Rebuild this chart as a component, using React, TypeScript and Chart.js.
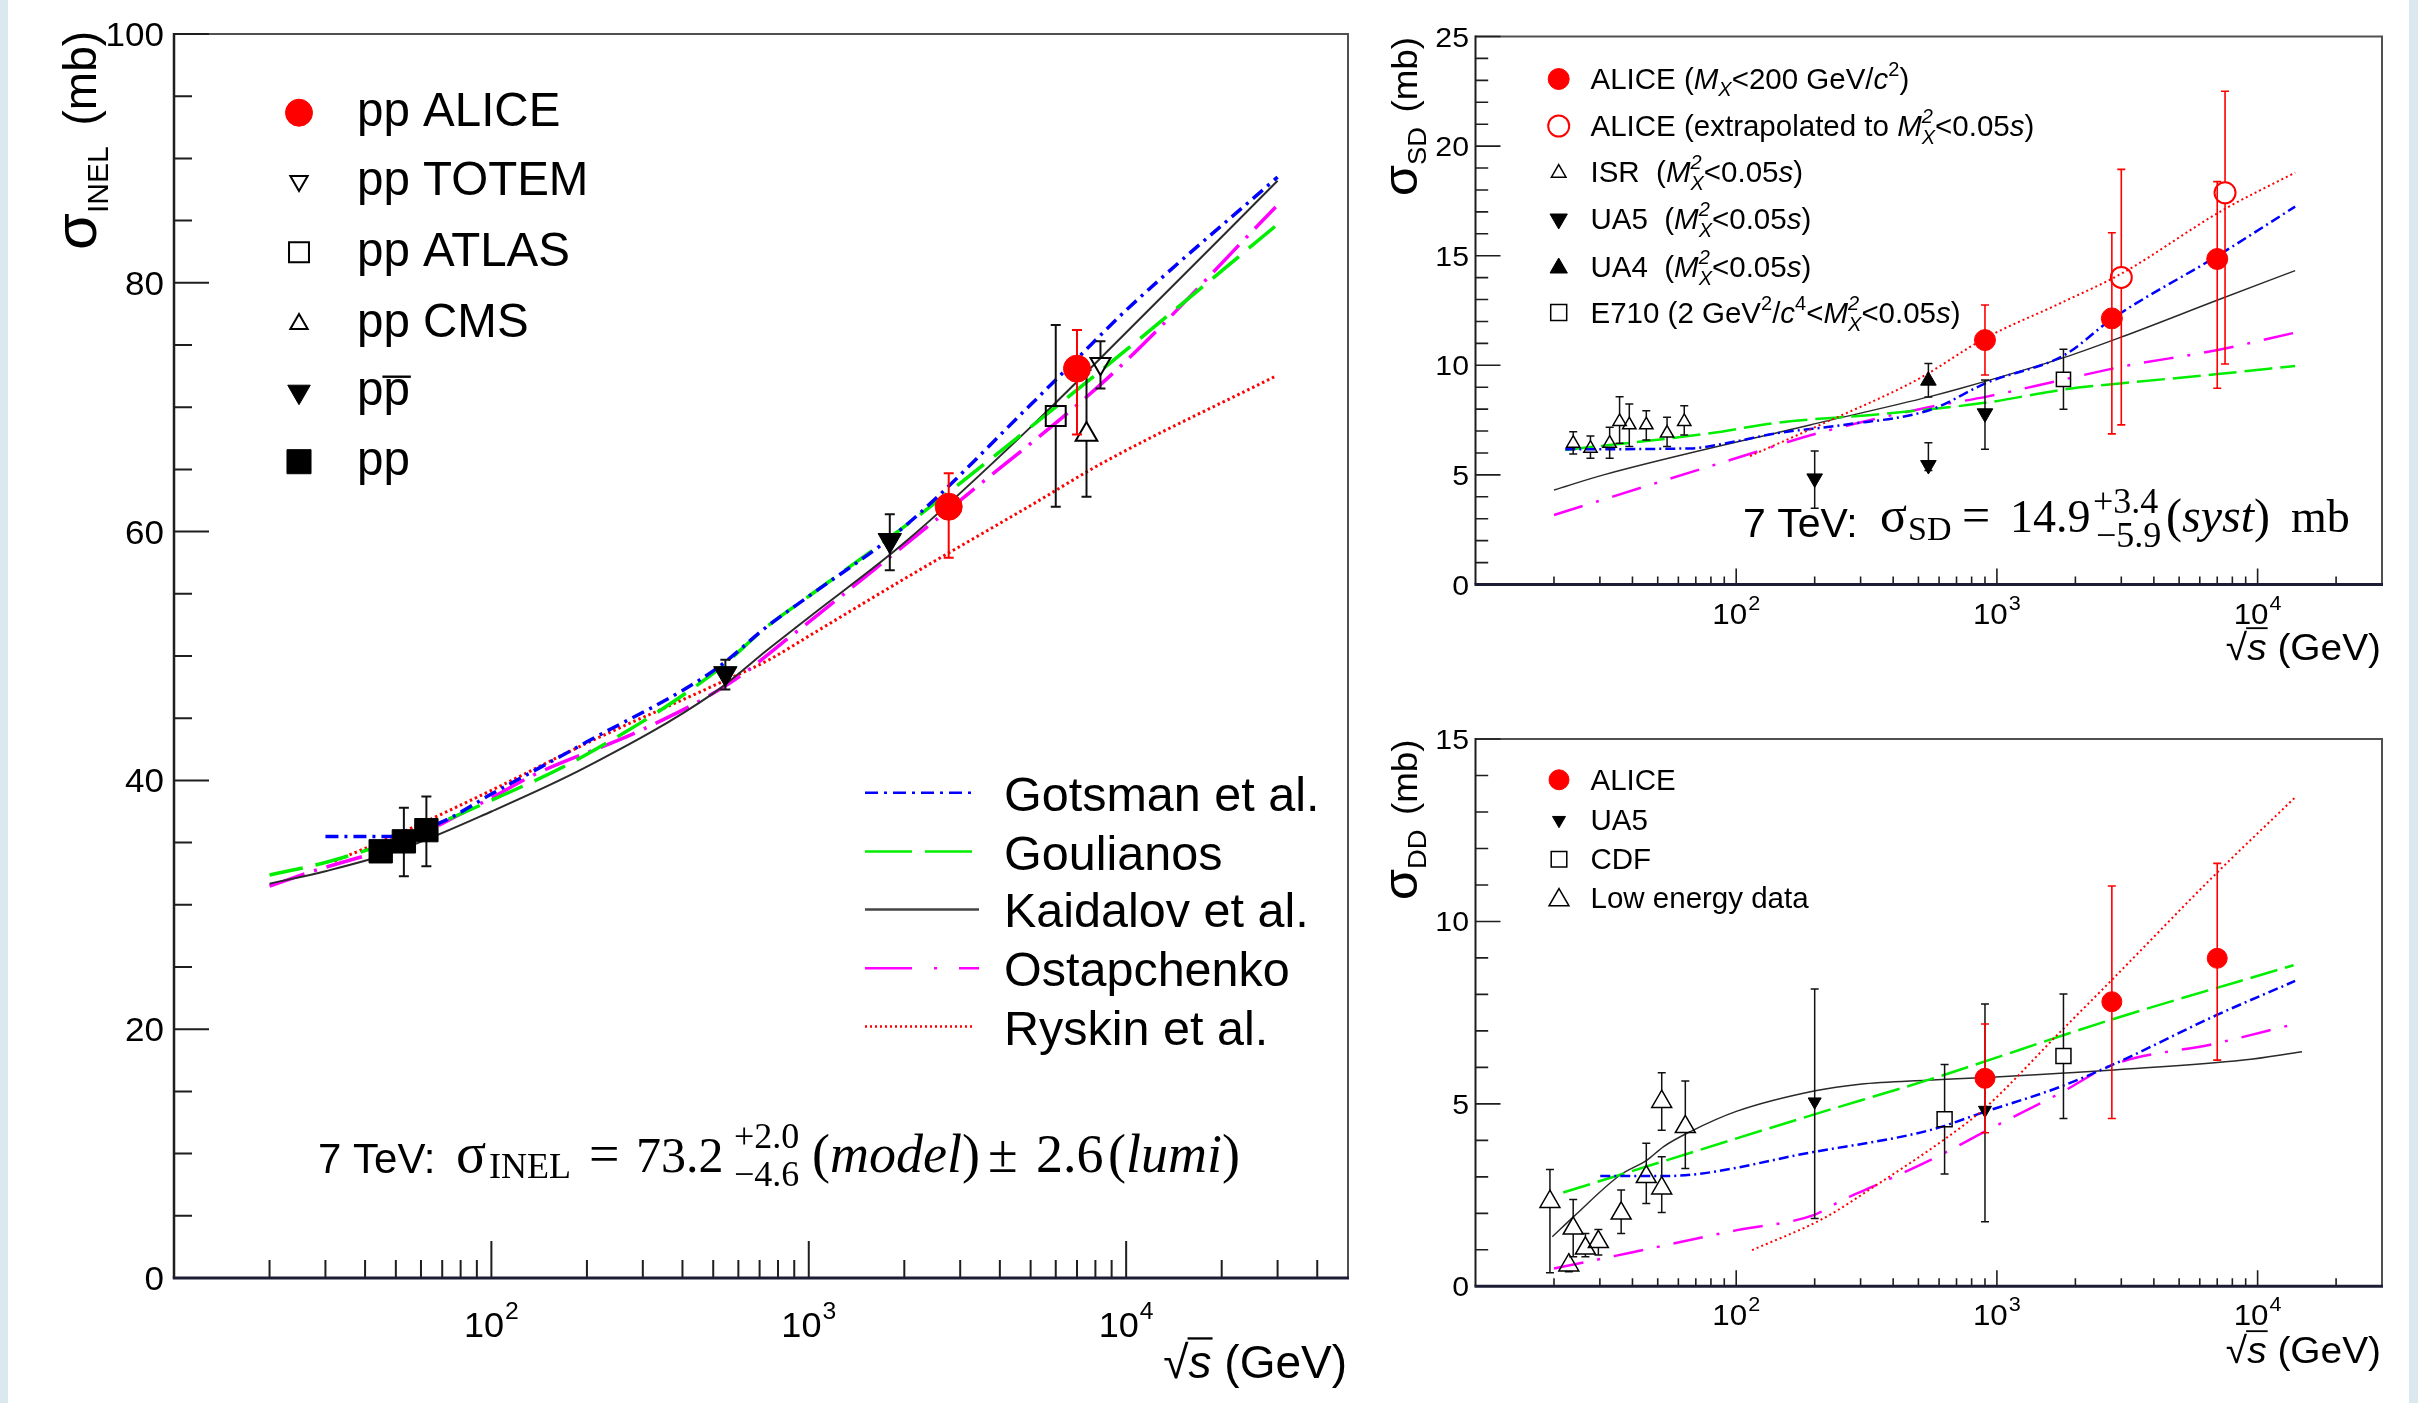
import React, { useEffect, useRef } from 'react';
import { Chart, registerables } from 'chart.js';

Chart.register(...registerables);

// ================= DATA: left panel, sigma_INEL (mb) vs sqrt(s) (GeV) =================
const inelAliceEnergy = [2760, 7000];
const inelAliceValue = [62.0, 73.1];
const inelAliceHigh = [64.7, 76.2];
const inelAliceLow = [57.9, 67.8];

const inelTotemEnergy = [8300];
const inelTotemValue = [73.5];
const inelTotemHigh = [75.3];
const inelTotemLow = [71.5];

const inelAtlasEnergy = [6000];
const inelAtlasValue = [69.3];
const inelAtlasHigh = [76.6];
const inelAtlasLow = [62.0];

const inelCmsEnergy = [7500];
const inelCmsValue = [67.8];
const inelCmsHigh = [73.0];
const inelCmsLow = [62.8];

const inelPpbarEnergy = [546, 1800];
const inelPpbarValue = [48.6, 59.3];
const inelPpbarHigh = [49.7, 61.4];
const inelPpbarLow = [47.3, 56.9];

const inelPpEnergy = [44.8, 53, 62.4];
const inelPpValue = [34.3, 35.1, 36.0];
const inelPpHigh = [34.9, 37.8, 38.7];
const inelPpLow = [33.7, 32.3, 33.1];

const inelGotsmanEnergy = [30, 48, 69, 100, 200, 500, 750, 1000, 2000, 5000, 7000, 10000, 30000];
const inelGotsmanValue = [35.5, 35.5, 36.6, 38.9, 43.1, 48.8, 52.5, 54.8, 60.4, 70.2, 73.9, 77.8, 88.5];

const inelGoulianosEnergy = [20, 30, 50, 100, 200, 500, 750, 1000, 2000, 5000, 10000, 30000];
const inelGoulianosValue = [32.4, 33.4, 35.2, 38.4, 42.1, 48.6, 52.5, 54.8, 60.4, 68.4, 74.6, 84.7];

const inelKaidalovEnergy = [20, 30, 50, 100, 200, 500, 750, 1000, 2000, 5000, 10000, 30000];
const inelKaidalovValue = [31.7, 32.7, 34.3, 37.5, 41.1, 47.0, 50.6, 53.1, 59.1, 68.4, 76.0, 88.2];

const inelOstapEnergy = [20, 27.4, 50, 100, 135, 300, 562, 889, 2000, 3200, 9060, 29600];
const inelOstapValue = [31.5, 32.7, 34.8, 38.6, 40.4, 44.1, 47.8, 51.7, 58.9, 63.1, 72.7, 86.1];

const inelRyskinEnergy = [32, 50, 100, 200, 500, 750, 1000, 2000, 5000, 8400, 29600];
const inelRyskinValue = [33.5, 35.6, 39.2, 43.0, 47.6, 49.7, 51.6, 56.2, 62.1, 65.5, 72.5];

const inelYTicks = [0, 20, 40, 60, 80, 100];
const xTickExponents = [2, 3, 4];

// ================= DATA: top-right panel, sigma_SD (mb) =================
const sdAliceEnergy = [900, 2760, 7000];
const sdAliceValue = [11.15, 12.14, 14.85];
const sdAliceHigh = [12.75, 16.05, 18.38];
const sdAliceLow = [9.56, 6.87, 8.95];

const sdAliceExtEnergy = [3000, 7500];
const sdAliceExtValue = [14.01, 17.87];
const sdAliceExtHigh = [18.94, 22.5];
const sdAliceExtLow = [7.28, 10.06];

const sdIsrEnergy = [23.7, 27.6, 32.7, 35.7, 38.9, 45.2, 54.3, 63.2];
const sdIsrValue = [6.44, 6.21, 6.44, 7.43, 7.28, 7.28, 6.9, 7.43];
const sdIsrHigh = [6.97, 6.77, 7.17, 8.57, 8.23, 7.93, 7.63, 8.16];
const sdIsrLow = [5.95, 5.76, 5.76, 6.44, 6.29, 6.59, 6.29, 6.82];

const sdUa5Energy = [200, 546, 900];
const sdUa5Value = [4.84, 5.45, 7.81];
const sdUa5High = [6.09, 6.47, 9.33];
const sdUa5Low = [3.48, 5.2, 6.17];

const sdUa4Energy = [546];
const sdUa4Value = [9.3];
const sdUa4High = [10.08];
const sdUa4Low = [8.55];

const sdE710Energy = [1800];
const sdE710Value = [9.36];
const sdE710High = [10.73];
const sdE710Low = [7.99];

const sdGotsmanEnergy = [22.1, 66.7, 97.7, 143, 258, 553, 914, 1816, 2781, 7030, 13930];
const sdGotsmanValue = [6.17, 6.21, 6.51, 6.9, 7.28, 7.96, 9.2, 10.47, 12.14, 15.0, 17.24];

const sdGoulianosEnergy = [22.1, 79.5, 143, 346, 914, 1816, 3020, 7030, 13930];
const sdGoulianosValue = [6.14, 6.9, 7.38, 7.76, 8.3, 8.9, 9.18, 9.6, 9.97];

const sdKaidalovEnergy = [20, 31, 192, 553, 728, 1816, 3020, 7030, 13930];
const sdKaidalovValue = [4.31, 5.0, 7.28, 8.57, 8.95, 10.36, 11.3, 12.98, 14.32];

const sdOstapEnergy = [20, 94.8, 216, 553, 914, 1816, 3020, 7030, 13930];
const sdOstapValue = [3.17, 5.68, 6.97, 8.1, 8.57, 9.36, 9.94, 10.7, 11.49];

const sdRyskinEnergy = [113, 216, 492, 906, 1750, 3020, 7400, 13930];
const sdRyskinValue = [5.86, 7.35, 9.33, 11.25, 12.83, 14.2, 17.1, 18.79];

const sdYTicks = [0, 5, 10, 15, 20, 25];

// ================= DATA: bottom-right panel, sigma_DD (mb) =================
const ddAliceEnergy = [900, 2760, 7000];
const ddAliceValue = [5.7, 7.8, 8.99];
const ddAliceHigh = [7.19, 10.97, 11.59];
const ddAliceLow = [4.21, 4.6, 6.2];

const ddUa5Energy = [200, 900];
const ddUa5Value = [5.06, 4.83];
const ddUa5High = [8.15, 7.74];
const ddUa5Low = [1.86, 1.77];

const ddCdfEnergy = [630, 1800];
const ddCdfValue = [4.58, 6.31];
const ddCdfHigh = [6.08, 8.01];
const ddCdfLow = [3.08, 4.6];

const ddLowEnergy = [19.3, 22.8, 23.7, 26.4, 29.6, 36.2, 45.2, 51.8, 51.8, 63.8];
const ddLowValue = [2.32, 0.58, 1.59, 1.04, 1.22, 2.0, 3.0, 2.69, 5.06, 4.37];
const ddLowHigh = [3.2, 0.8, 2.38, 1.45, 1.56, 2.64, 3.92, 3.55, 5.85, 5.63];
const ddLowLow = [0.37, 0.4, 0.81, 0.81, 0.86, 1.45, 2.27, 2.02, 4.28, 3.23];

const ddGotsmanEnergy = [30.1, 52.7, 201, 553, 898, 1754, 2754, 6950, 13930];
const ddGotsmanValue = [3.02, 3.02, 3.69, 4.28, 4.78, 5.47, 6.06, 7.43, 8.37];

const ddGoulianosEnergy = [21.7, 201, 553, 2781, 13740];
const ddGoulianosValue = [2.57, 4.72, 5.67, 7.32, 8.8];

const ddKaidalovEnergy = [19.7, 23.8, 35.9, 45.5, 52.7, 66.7, 100.7, 201, 298, 538, 914, 1754, 2805, 8830, 14800];
const ddKaidalovValue = [1.36, 1.91, 3.05, 3.46, 3.83, 4.24, 4.8, 5.36, 5.54, 5.65, 5.72, 5.84, 5.93, 6.2, 6.43];

const ddOstapEnergy = [20, 26.7, 38, 100.7, 198, 256, 346, 624, 898, 1754, 2754, 6950, 13740];
const ddOstapValue = [0.49, 0.67, 0.9, 1.54, 1.95, 2.37, 2.78, 3.64, 4.24, 5.3, 6.06, 6.66, 7.18];

const ddRyskinEnergy = [115, 216, 346, 624, 898, 1754, 2754, 6950, 13930];
const ddRyskinValue = [0.99, 1.86, 2.78, 4.01, 4.88, 6.98, 8.39, 11.32, 13.4];

const ddYTicks = [0, 5, 10, 15];

// ================= STYLES =================
const SANS = '"Liberation Sans", Arial, Helvetica, sans-serif';
const SERIF = '"Liberation Serif", "Times New Roman", Times, serif';
const BLUE = '#0000ff';
const GREEN = '#00ee00';
const KBLACK = '#2a2a2a';
const MAGENTA = '#ff00ff';
const RED = '#ff0000';
const NONE = 'rgba(0,0,0,0)';

type Seg = {
  t?: string; size: number; serif?: boolean; italic?: boolean; dy?: number; gap?: number;
  sup?: string; sub?: string; supDy?: number; subDy?: number; over?: number;
};

function fontOf(s: Seg) {
  return `${s.italic ? 'italic ' : ''}${s.size}px ${s.serif ? SERIF : SANS}`;
}
function segWidth(ctx: CanvasRenderingContext2D, s: Seg) {
  ctx.font = fontOf(s);
  if (s.sup !== undefined || s.sub !== undefined) {
    return Math.max(ctx.measureText(s.sup || '').width, ctx.measureText(s.sub || '').width);
  }
  return ctx.measureText(s.t || '').width;
}
function richWidth(ctx: CanvasRenderingContext2D, segs: Seg[]) {
  let w = 0;
  for (const s of segs) w += (s.gap || 0) + segWidth(ctx, s);
  return w;
}
function drawRich(ctx: CanvasRenderingContext2D, x: number, y: number, segs: Seg[],
  opts: { align?: string; stretch?: number; rotate?: boolean; color?: string } = {}) {
  ctx.save();
  ctx.translate(x, y);
  if (opts.rotate) ctx.rotate(-Math.PI / 2);
  ctx.scale(opts.stretch || 1, 1);
  const w = richWidth(ctx, segs);
  let cx = opts.align === 'right' ? -w : opts.align === 'center' ? -w / 2 : 0;
  ctx.fillStyle = opts.color || '#000';
  ctx.strokeStyle = opts.color || '#000';
  ctx.textAlign = 'left';
  ctx.textBaseline = 'alphabetic';
  for (const s of segs) {
    cx += s.gap || 0;
    const sw = segWidth(ctx, s);
    ctx.font = fontOf(s);
    if (s.sup !== undefined || s.sub !== undefined) {
      if (s.sup) ctx.fillText(s.sup, cx, s.supDy ?? -s.size * 0.6);
      if (s.sub) ctx.fillText(s.sub, cx, s.subDy ?? s.size * 0.4);
    } else {
      ctx.fillText(s.t || '', cx, s.dy || 0);
      if (s.over) {
        ctx.lineWidth = Math.max(1.5, s.size * 0.05);
        ctx.beginPath();
        ctx.moveTo(cx - 1, (s.dy || 0) - s.size * s.over);
        ctx.lineTo(cx + sw + 1, (s.dy || 0) - s.size * s.over);
        ctx.stroke();
      }
    }
    cx += sw;
  }
  ctx.restore();
}
// draw pieces each at its own absolute position: [x, baseline, segments]
function drawPieces(ctx: CanvasRenderingContext2D, pieces: [number, number, Seg[]][]) {
  pieces.forEach(([x, y, segs]) => drawRich(ctx, x, y, segs));
}

function drawMarker(ctx: CanvasRenderingContext2D, style: string, x: number, y: number, r: number,
  fill: string | null, stroke: string, bw: number) {
  ctx.save();
  ctx.beginPath();
  if (style === 'circle') ctx.arc(x, y, r, 0, Math.PI * 2);
  else if (style === 'triUp') {
    ctx.moveTo(x, y - r); ctx.lineTo(x + r * 0.866, y + r * 0.5); ctx.lineTo(x - r * 0.866, y + r * 0.5); ctx.closePath();
  } else if (style === 'triDown') {
    ctx.moveTo(x, y + r); ctx.lineTo(x + r * 0.866, y - r * 0.5); ctx.lineTo(x - r * 0.866, y - r * 0.5); ctx.closePath();
  } else {
    const s = r * Math.SQRT1_2; ctx.rect(x - s, y - s, 2 * s, 2 * s);
  }
  if (fill) { ctx.fillStyle = fill; ctx.fill(); }
  ctx.lineWidth = bw; ctx.strokeStyle = stroke; ctx.stroke();
  ctx.restore();
}

function drawLegendLine(ctx: CanvasRenderingContext2D, x1: number, x2: number, y: number, color: string, w: number, dash: number[]) {
  ctx.save();
  ctx.strokeStyle = color; ctx.lineWidth = w; ctx.setLineDash(dash);
  ctx.beginPath(); ctx.moveTo(x1, y); ctx.lineTo(x2, y); ctx.stroke();
  ctx.restore();
}

// ================= DATASET BUILDERS =================
function lineSet(xs: number[], ys: number[], color: string, width: number, dash: number[]) {
  return {
    data: xs.map((x, i) => ({ x, y: ys[i] })),
    showLine: true, borderColor: color, borderWidth: width, borderDash: dash,
    pointRadius: 0, pointHoverRadius: 0, fill: false, cubicInterpolationMode: 'monotone',
    backgroundColor: color,
  };
}
function markerSet(xs: number[], ys: number[], hi: number[], lo: number[],
  m: { style: string; r: number; fill: string; stroke: string; bw: number; rot?: number },
  e: { color: string; w: number; cap: number; up: number; down: number }) {
  return {
    data: xs.map((x, i) => ({ x, y: ys[i] })),
    showLine: false,
    pointStyle: m.style, pointRadius: m.r, pointHoverRadius: m.r, pointRotation: m.rot || 0,
    pointBackgroundColor: m.fill, pointBorderColor: m.stroke, pointBorderWidth: m.bw,
    errHigh: hi, errLow: lo, errColor: e.color, errWidth: e.w, errCap: e.cap, errUp: e.up, errDown: e.down,
  };
}

const errorBarPlugin = {
  id: 'errbars',
  beforeDatasetDraw(chart: any, args: any) {
    const ds = chart.data.datasets[args.index];
    if (!ds.errHigh) return;
    const ctx = chart.ctx; const ys = chart.scales.y;
    ctx.save();
    ctx.strokeStyle = ds.errColor; ctx.lineWidth = ds.errWidth;
    args.meta.data.forEach((pt: any, i: number) => {
      const x = pt.x, yc = pt.y;
      const yh = ys.getPixelForValue(ds.errHigh[i]);
      const yl = ys.getPixelForValue(ds.errLow[i]);
      ctx.beginPath();
      if (yc - ds.errUp > yh + 0.5) {
        ctx.moveTo(x, yc - ds.errUp); ctx.lineTo(x, yh);
        ctx.moveTo(x - ds.errCap, yh); ctx.lineTo(x + ds.errCap, yh);
      }
      if (yc + ds.errDown < yl - 0.5) {
        ctx.moveTo(x, yc + ds.errDown); ctx.lineTo(x, yl);
        ctx.moveTo(x - ds.errCap, yl); ctx.lineTo(x + ds.errCap, yl);
      }
      ctx.stroke();
    });
    ctx.restore();
  },
};

function drawAxes(chart: any, p: any) {
  const ctx = chart.ctx; const a = chart.chartArea; const xs = chart.scales.x; const ys = chart.scales.y;
  ctx.save();
  ctx.lineCap = 'butt';
  ctx.strokeStyle = '#505050'; ctx.lineWidth = p.frameW;
  ctx.beginPath(); ctx.moveTo(a.left, a.top); ctx.lineTo(a.right, a.top); ctx.lineTo(a.right, a.bottom); ctx.stroke();
  ctx.strokeStyle = '#1e1e1e'; ctx.lineWidth = p.axisW;
  ctx.beginPath(); ctx.moveTo(a.left, a.top - p.frameW / 2); ctx.lineTo(a.left, a.bottom); ctx.stroke();
  const n = Math.round((p.yMax - p.yMin) / p.yMinor);
  const ratio = Math.round(p.yMajor / p.yMinor);
  ctx.lineWidth = p.tickW;
  ctx.beginPath();
  for (let i = 0; i <= n; i++) {
    const v = p.yMin + i * p.yMinor;
    const py = ys.getPixelForValue(v);
    const len = i % ratio === 0 ? p.yMajLen : p.yMinLen;
    ctx.moveTo(a.left, py); ctx.lineTo(a.left + len, py);
  }
  ctx.stroke();
  ctx.beginPath();
  for (let e = Math.floor(Math.log10(p.xMin)); e <= Math.ceil(Math.log10(p.xMax)); e++) {
    for (let k = 1; k <= 9; k++) {
      const v = k * Math.pow(10, e);
      if (v <= p.xMin * 1.001 || v >= p.xMax * 0.999) continue;
      const px = xs.getPixelForValue(v);
      const len = k === 1 ? p.xMajLen : p.xMinLen;
      ctx.moveTo(px, a.bottom); ctx.lineTo(px, a.bottom - len);
    }
  }
  ctx.stroke();
  ctx.strokeStyle = '#1c1c34'; ctx.lineWidth = p.bottomW;
  ctx.beginPath(); ctx.moveTo(a.left - p.axisW / 2, a.bottom); ctx.lineTo(a.right + p.frameW / 2, a.bottom); ctx.stroke();
  ctx.restore();
}

function decorPlugin(p: any) {
  return {
    id: 'decor',
    afterDraw(chart: any) {
      drawAxes(chart, p);
      const ctx = chart.ctx; const xs = chart.scales.x; const ys = chart.scales.y;
      ctx.save();
      ctx.translate(-p.ox, -p.oy);
      p.yTicks.forEach((v: number) => {
        const py = ys.getPixelForValue(v) + p.oy;
        drawRich(ctx, p.yLabelX, py + p.yLabelDy, [{ t: String(v), size: p.yLabelSize }], { align: 'right', stretch: p.labelStretch });
      });
      xTickExponents.forEach((e) => {
        const px = xs.getPixelForValue(Math.pow(10, e)) + p.ox;
        drawRich(ctx, px, p.xLabelBase, [{ t: '10', size: p.xLabelSize }, { t: String(e), size: p.xSupSize, dy: p.xSupDy, gap: 1 }], { align: 'center', stretch: p.labelStretch });
      });
      drawRich(ctx, p.xTitleX, p.xTitleBase, [
        { t: '√', size: p.xTitleSize },
        { t: 's', size: p.xTitleSize, italic: true, over: 0.86 },
        { t: ' (GeV)', size: p.xTitleSize },
      ], { align: 'right', stretch: p.titleStretch });
      p.extras(ctx);
      ctx.restore();
    },
  };
}

// ================= PANEL SPECS =================
const transparentErrGap = (r: number, kind: string) =>
  kind === 'triUp' ? { up: r, down: r * 0.5 } : kind === 'triDown' ? { up: r * 0.5, down: r } : kind === 'square' ? { up: r * 0.7071, down: r * 0.7071 } : { up: r, down: r };

const panelInel = {
  ox: 0, oy: 0, w: 1360, h: 1403,
  area: { l: 174, t: 34, r: 1348, b: 1278 },
  xMin: 10, xMax: 50000, yMin: 0, yMax: 100, yMajor: 20, yMinor: 5,
  yMajLen: 35, yMinLen: 18, xMajLen: 37, xMinLen: 18,
  axisW: 2.5, frameW: 2, bottomW: 3, tickW: 2,
  yTicks: inelYTicks, yLabelX: 164, yLabelDy: 12, yLabelSize: 34, labelStretch: 1.03,
  xLabelBase: 1337, xLabelSize: 35, xSupSize: 24, xSupDy: -18,
  xTitleX: 1347, xTitleBase: 1378, xTitleSize: 46, titleStretch: 1,
  datasets: () => {
    const tg = transparentErrGap(11.5, 'triDown');
    const cg = transparentErrGap(12.5, 'triUp');
    const ag = transparentErrGap(14.1, 'square');
    return [
      markerSet(inelAliceEnergy, inelAliceValue, inelAliceHigh, inelAliceLow, { style: 'circle', r: 13.5, fill: RED, stroke: RED, bw: 1 }, { color: RED, w: 2, cap: 5, up: 0, down: 0 }),
      markerSet(inelTotemEnergy, inelTotemValue, inelTotemHigh, inelTotemLow, { style: 'triangle', rot: 180, r: 11.5, fill: NONE, stroke: '#000', bw: 2 }, { color: '#111', w: 2, cap: 5, ...tg }),
      markerSet(inelAtlasEnergy, inelAtlasValue, inelAtlasHigh, inelAtlasLow, { style: 'rect', r: 14.1, fill: NONE, stroke: '#000', bw: 2 }, { color: '#111', w: 2, cap: 5, ...ag }),
      markerSet(inelCmsEnergy, inelCmsValue, inelCmsHigh, inelCmsLow, { style: 'triangle', r: 12.5, fill: NONE, stroke: '#000', bw: 2 }, { color: '#111', w: 2, cap: 5, ...cg }),
      markerSet(inelPpbarEnergy, inelPpbarValue, inelPpbarHigh, inelPpbarLow, { style: 'triangle', rot: 180, r: 13.5, fill: '#000', stroke: '#000', bw: 1 }, { color: '#111', w: 2, cap: 5, up: 0, down: 0 }),
      markerSet(inelPpEnergy, inelPpValue, inelPpHigh, inelPpLow, { style: 'rect', r: 16.5, fill: '#000', stroke: '#000', bw: 1 }, { color: '#111', w: 2, cap: 5, up: 0, down: 0 }),
      lineSet(inelGotsmanEnergy, inelGotsmanValue, BLUE, 3.5, [13, 6, 3, 6]),
      lineSet(inelGoulianosEnergy, inelGoulianosValue, GREEN, 3.5, [34, 13]),
      lineSet(inelKaidalovEnergy, inelKaidalovValue, KBLACK, 2, []),
      lineSet(inelOstapEnergy, inelOstapValue, MAGENTA, 3.5, [37, 10, 3, 10]),
      lineSet(inelRyskinEnergy, inelRyskinValue, RED, 3, [2.5, 3]),
    ];
  },
  extras: (ctx: CanvasRenderingContext2D) => {
    // y-axis title
    drawRich(ctx, 96, 250, [
      { t: 'σ', size: 60 }, { t: 'INEL', size: 30, dy: 12 }, { t: ' (mb)', size: 46, gap: 8 },
    ], { rotate: true });
    // data legend
    const mx = 299, tx = 357, fs = 47.5;
    drawMarker(ctx, 'circle', mx, 112.7, 13.5, RED, RED, 1);
    drawRich(ctx, tx, 112.7 + 13.5, [{ t: 'pp ALICE', size: fs }]);
    drawMarker(ctx, 'triDown', mx, 181, 10, null, '#000', 2);
    drawRich(ctx, tx, 181 + 13.5, [{ t: 'pp TOTEM', size: fs }]);
    drawMarker(ctx, 'square', mx, 252.3, 14.1, null, '#000', 2);
    drawRich(ctx, tx, 252.3 + 13.5, [{ t: 'pp ATLAS', size: fs }]);
    drawMarker(ctx, 'triUp', mx, 324, 10, null, '#000', 2);
    drawRich(ctx, tx, 323.3 + 13.5, [{ t: 'pp CMS', size: fs }]);
    drawMarker(ctx, 'triDown', mx, 391.7, 13, '#000', '#000', 1);
    drawRich(ctx, tx, 391.7 + 13.5, [{ t: 'p', size: fs }, { t: 'p', size: fs, over: 0.6 }]);
    drawMarker(ctx, 'square', mx, 461.7, 17, '#000', '#000', 1);
    drawRich(ctx, tx, 461.7 + 13.5, [{ t: 'pp', size: fs }]);
    // model legend
    const lx1 = 865, ltx = 1004, ms = 48.5;
    const rows = [
      { y: 792.8, c: BLUE, w: 2.5, d: [13, 6, 3, 6], x2: 972, t: 'Gotsman et al.' },
      { y: 851.6, c: GREEN, w: 2.5, d: [47, 13], x2: 972, t: 'Goulianos' },
      { y: 909.4, c: '#444', w: 2.5, d: [], x2: 979, t: 'Kaidalov et al.' },
      { y: 968.2, c: MAGENTA, w: 2.5, d: [47, 22, 3, 22], x2: 979, t: 'Ostapchenko' },
      { y: 1026.5, c: RED, w: 2.5, d: [2, 3], x2: 975, t: 'Ryskin et al.' },
    ];
    rows.forEach((r) => {
      drawLegendLine(ctx, lx1, r.x2, r.y, r.c, r.w, r.d);
      drawRich(ctx, ltx, r.y + 18, [{ t: r.t, size: ms }]);
    });
    // formula (each piece at its measured position)
    drawPieces(ctx, [
      [318, 1173, [{ t: '7 TeV:', size: 42 }]],
      [456, 1172, [{ t: 'σ', size: 56, serif: true }]],
      [489, 1178, [{ t: 'INEL', size: 36, serif: true }]],
      [589, 1172, [{ t: '=', size: 54, serif: true }]],
      [636, 1172, [{ t: '73.2', size: 50, serif: true }]],
      [734, 1148, [{ t: '+2.0', size: 36, serif: true }]],
      [734, 1186, [{ t: '−4.6', size: 36, serif: true }]],
      [812, 1172, [{ t: '(', size: 54, serif: true }, { t: 'model', size: 54, serif: true, italic: true }, { t: ')', size: 54, serif: true }]],
      [988, 1172, [{ t: '±', size: 54, serif: true }]],
      [1036, 1172, [{ t: '2.6', size: 54, serif: true }]],
      [1108, 1172, [{ t: '(', size: 54, serif: true }, { t: 'lumi', size: 54, serif: true, italic: true }, { t: ')', size: 54, serif: true }]],
    ]);
  },
};

const rightCommon = {
  xMin: 10, xMax: 30000, yMin: 0, yMajor: 5, yMinor: 1,
  yMajLen: 25, yMinLen: 12.7, xMajLen: 16, xMinLen: 8,
  axisW: 2, frameW: 2, bottomW: 3, tickW: 1.6,
  yLabelX: 1469, yLabelDy: 10, yLabelSize: 28, labelStretch: 1.08,
  xLabelSize: 29, xSupSize: 20, xSupDy: -14,
  xTitleX: 2381, xTitleSize: 37, titleStretch: 1.05,
};

const LS = 29.5;
const stackM = (gapBefore = 0): Seg[] => [
  { t: 'M', size: LS, italic: true, gap: gapBefore },
  { sup: '2', sub: 'X', size: 20, italic: true, supDy: -13, subDy: 8 },
  { t: '<0.05', size: LS },
  { t: 's', size: LS, italic: true },
  { t: ')', size: LS },
];

const panelSd = {
  ...rightCommon,
  ox: 1360, oy: 0, w: 1058, h: 700,
  area: { l: 1475.5, t: 36.5, r: 2382, b: 584.5 },
  yMax: 25, yTicks: sdYTicks,
  xLabelBase: 624, xTitleBase: 660,
  datasets: () => {
    const og = transparentErrGap(10.5, 'circle');
    const ig = transparentErrGap(7.7, 'triUp');
    const eg = transparentErrGap(10, 'square');
    return [
      markerSet(sdAliceEnergy, sdAliceValue, sdAliceHigh, sdAliceLow, { style: 'circle', r: 10.5, fill: RED, stroke: RED, bw: 1 }, { color: RED, w: 1.6, cap: 4, up: 0, down: 0 }),
      markerSet(sdAliceExtEnergy, sdAliceExtValue, sdAliceExtHigh, sdAliceExtLow, { style: 'circle', r: 10.5, fill: NONE, stroke: RED, bw: 2 }, { color: RED, w: 1.6, cap: 4, ...og }),
      markerSet(sdIsrEnergy, sdIsrValue, sdIsrHigh, sdIsrLow, { style: 'triangle', r: 7.7, fill: NONE, stroke: '#000', bw: 1.5 }, { color: '#111', w: 1.5, cap: 4, ...ig }),
      markerSet(sdUa5Energy, sdUa5Value, sdUa5High, sdUa5Low, { style: 'triangle', rot: 180, r: 9, fill: '#000', stroke: '#000', bw: 1 }, { color: '#111', w: 1.5, cap: 4, up: 0, down: 0 }),
      markerSet(sdUa4Energy, sdUa4Value, sdUa4High, sdUa4Low, { style: 'triangle', r: 9, fill: '#000', stroke: '#000', bw: 1 }, { color: '#111', w: 1.5, cap: 4, up: 0, down: 0 }),
      markerSet(sdE710Energy, sdE710Value, sdE710High, sdE710Low, { style: 'rect', r: 10, fill: NONE, stroke: '#000', bw: 1.5 }, { color: '#111', w: 1.5, cap: 4, ...eg }),
      lineSet(sdRyskinEnergy, sdRyskinValue, RED, 2, [2, 3]),
      lineSet(sdGotsmanEnergy, sdGotsmanValue, BLUE, 2.5, [10, 4, 2, 4]),
      lineSet(sdGoulianosEnergy, sdGoulianosValue, GREEN, 2.5, [28, 8]),
      lineSet(sdKaidalovEnergy, sdKaidalovValue, KBLACK, 1.5, []),
      lineSet(sdOstapEnergy, sdOstapValue, MAGENTA, 2.5, [30, 14, 3, 14]),
    ];
  },
  extras: (ctx: CanvasRenderingContext2D) => {
    drawRich(ctx, 1417, 196, [
      { t: 'σ', size: 48 }, { t: 'SD', size: 26, dy: 9 }, { t: ' (mb)', size: 35, gap: 4 },
    ], { rotate: true, stretch: 1.05 });
    const mx = 1558.7, tx = 1590.5, d = 10;
    drawMarker(ctx, 'circle', mx, 79, 10.5, RED, RED, 1);
    drawRich(ctx, tx, 79 + d, [
      { t: 'ALICE (', size: LS }, { t: 'M', size: LS, italic: true }, { t: 'X', size: 20, italic: true, dy: 7 },
      { t: '<200 GeV/', size: LS }, { t: 'c', size: LS, italic: true }, { t: '2', size: 20, dy: -13 }, { t: ')', size: LS },
    ]);
    drawMarker(ctx, 'circle', mx, 126, 10.5, null, RED, 2);
    drawRich(ctx, tx, 126 + d, [{ t: 'ALICE (extrapolated to ', size: LS }, ...stackM()]);
    drawMarker(ctx, 'triUp', mx, 173, 8.4, null, '#000', 1.5);
    drawRich(ctx, tx, 172 + d, [{ t: 'ISR  (', size: LS }, ...stackM()]);
    drawMarker(ctx, 'triDown', mx, 219, 10, '#000', '#000', 1);
    drawRich(ctx, tx, 219 + d, [{ t: 'UA5  (', size: LS }, ...stackM()]);
    drawMarker(ctx, 'triUp', mx, 268, 10, '#000', '#000', 1);
    drawRich(ctx, tx, 267 + d, [{ t: 'UA4  (', size: LS }, ...stackM()]);
    drawMarker(ctx, 'square', mx, 312.5, 11.3, null, '#000', 1.5);
    drawRich(ctx, tx, 312.5 + d, [
      { t: 'E710 (2 GeV', size: LS }, { t: '2', size: 20, dy: -13 }, { t: '/', size: LS },
      { t: 'c', size: LS, italic: true }, { t: '4', size: 20, dy: -13 }, { t: '<', size: LS }, ...stackM(),
    ]);
    // formula
    drawPieces(ctx, [
      [1743, 537, [{ t: '7 TeV:', size: 41 }]],
      [1880, 532, [{ t: 'σ', size: 50, serif: true }]],
      [1908, 540, [{ t: 'SD', size: 34, serif: true }]],
      [1962, 532, [{ t: '=', size: 50, serif: true }]],
      [2010, 532, [{ t: '14.9', size: 46, serif: true }]],
      [2093, 513, [{ t: '+3.4', size: 36, serif: true }]],
      [2096, 547, [{ t: '−5.9', size: 36, serif: true }]],
      [2166, 532, [{ t: '(', size: 48, serif: true }, { t: 'syst', size: 48, serif: true, italic: true }, { t: ')', size: 48, serif: true }]],
      [2291, 532, [{ t: 'mb', size: 46, serif: true }]],
    ]);
  },
};

const panelDd = {
  ...rightCommon,
  ox: 1360, oy: 700, w: 1058, h: 703,
  area: { l: 1475.5, t: 739, r: 2382, b: 1286.3 },
  yMax: 15, yTicks: ddYTicks,
  xLabelBase: 1325, xTitleBase: 1363,
  datasets: () => {
    const lg = transparentErrGap(11.5, 'triUp');
    const cg = transparentErrGap(10.6, 'square');
    return [
      markerSet(ddAliceEnergy, ddAliceValue, ddAliceHigh, ddAliceLow, { style: 'circle', r: 10, fill: RED, stroke: RED, bw: 1 }, { color: RED, w: 1.6, cap: 4, up: 0, down: 0 }),
      markerSet(ddUa5Energy, ddUa5Value, ddUa5High, ddUa5Low, { style: 'triangle', rot: 180, r: 7.5, fill: '#000', stroke: '#000', bw: 1 }, { color: '#111', w: 1.5, cap: 4, up: 0, down: 0 }),
      markerSet(ddCdfEnergy, ddCdfValue, ddCdfHigh, ddCdfLow, { style: 'rect', r: 10.6, fill: NONE, stroke: '#000', bw: 1.5 }, { color: '#111', w: 1.5, cap: 4, ...cg }),
      markerSet(ddLowEnergy, ddLowValue, ddLowHigh, ddLowLow, { style: 'triangle', r: 11.5, fill: NONE, stroke: '#000', bw: 1.5 }, { color: '#111', w: 1.5, cap: 4, ...lg }),
      lineSet(ddRyskinEnergy, ddRyskinValue, RED, 2, [2, 3]),
      lineSet(ddGotsmanEnergy, ddGotsmanValue, BLUE, 2.5, [10, 4, 2, 4]),
      lineSet(ddGoulianosEnergy, ddGoulianosValue, GREEN, 2.5, [28, 8]),
      lineSet(ddKaidalovEnergy, ddKaidalovValue, KBLACK, 1.5, []),
      lineSet(ddOstapEnergy, ddOstapValue, MAGENTA, 2.5, [30, 14, 3, 14]),
    ];
  },
  extras: (ctx: CanvasRenderingContext2D) => {
    drawRich(ctx, 1417, 900, [
      { t: 'σ', size: 48 }, { t: 'DD', size: 26, dy: 9 }, { t: ' (mb)', size: 35, gap: 4 },
    ], { rotate: true, stretch: 1.05 });
    const mx = 1559, tx = 1590.5, d = 10;
    drawMarker(ctx, 'circle', mx, 779.8, 10, RED, RED, 1);
    drawRich(ctx, tx, 779.8 + d, [{ t: 'ALICE', size: LS }]);
    drawMarker(ctx, 'triDown', mx, 820.2, 7.5, '#000', '#000', 1);
    drawRich(ctx, tx, 820.2 + d, [{ t: 'UA5', size: LS }]);
    drawMarker(ctx, 'square', mx, 859.2, 11, null, '#000', 1.5);
    drawRich(ctx, tx, 859.2 + d, [{ t: 'CDF', size: LS }]);
    drawMarker(ctx, 'triUp', mx, 900, 11.5, null, '#000', 1.5);
    drawRich(ctx, tx, 898.2 + d, [{ t: 'Low energy data', size: LS }]);
  },
};

function buildConfig(p: any) {
  return {
    type: 'scatter',
    data: { datasets: p.datasets() },
    options: {
      animation: false,
      responsive: false,
      devicePixelRatio: 1,
      events: [],
      layout: {
        autoPadding: false,
        padding: {
          left: p.area.l - p.ox,
          top: p.area.t - p.oy,
          right: p.ox + p.w - p.area.r,
          bottom: p.oy + p.h - p.area.b,
        },
      },
      plugins: { legend: { display: false }, tooltip: { enabled: false }, title: { display: false } },
      scales: {
        x: { type: 'logarithmic', min: p.xMin, max: p.xMax, display: false },
        y: { type: 'linear', min: p.yMin, max: p.yMax, display: false },
      },
    },
    plugins: [errorBarPlugin, decorPlugin(p)],
  };
}

function ChartPanel({ spec }: { spec: any }) {
  const ref = useRef<HTMLCanvasElement>(null);
  useEffect(() => {
    const canvas = ref.current;
    if (!canvas) return;
    const chart = new Chart(canvas, buildConfig(spec) as any);
    return () => chart.destroy();
  }, [spec]);
  return (
    <canvas
      ref={ref}
      width={spec.w}
      height={spec.h}
      style={{ position: 'absolute', left: spec.ox, top: spec.oy, width: spec.w, height: spec.h, display: 'block' }}
    />
  );
}

export default function App() {
  return (
    <div style={{ position: 'absolute', left: 0, top: 0, width: 2418, height: 1403, background: '#ffffff', overflow: 'hidden' }}>
      <div style={{ position: 'absolute', left: 0, top: 0, width: 8, height: 1403, background: '#dce8f0' }} />
      <div style={{ position: 'absolute', left: 2409, top: 0, width: 9, height: 1403, background: '#dce8f0' }} />
      <ChartPanel spec={panelInel} />
      <ChartPanel spec={panelSd} />
      <ChartPanel spec={panelDd} />
    </div>
  );
}
